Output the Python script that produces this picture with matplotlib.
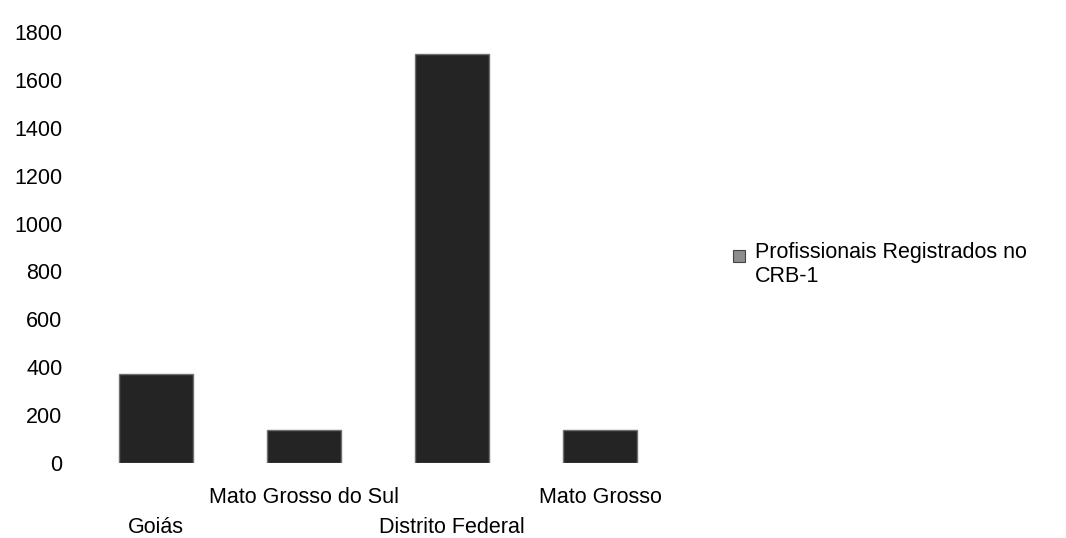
import matplotlib
matplotlib.use("Agg")
import matplotlib.pyplot as plt
from matplotlib.patches import Patch, Rectangle
from matplotlib.legend_handler import HandlerPatch
import matplotlib.transforms as mtransforms

categories = ["Goiás", "Mato Grosso do Sul", "Distrito Federal", "Mato Grosso"]
values = [372, 138, 1708, 138]
series_name = "Profissionais Registrados no\nCRB-1"
yticks = [0, 200, 400, 600, 800, 1000, 1200, 1400, 1600, 1800]

plt.rcParams['font.family'] = ['Liberation Sans', 'DejaVu Sans']
FS = 15.5

fig = plt.figure(figsize=(10.66, 5.38), dpi=100)
ax = fig.add_axes([82/1066, 1-463/538, (674-82)/1066, (463-32)/538])

x = list(range(len(categories)))
ax.bar(x, values, width=0.5, color='#242424', edgecolor='#707070', linewidth=1.0)

ax.set_xlim(-0.5, len(categories)-0.5)
ax.set_ylim(0, 1800)
ax.set_yticks(yticks)
ax.set_yticklabels([str(t) for t in yticks], fontsize=FS)
ax.tick_params(axis='y', length=0, pad=14)
ax.set_xticks([])
for s in ax.spines.values():
    s.set_visible(False)

trans = mtransforms.blended_transform_factory(ax.transData, ax.transAxes)
for i, c in enumerate(categories):
    off = -40/431 if i % 2 == 1 else -70/431
    ax.text(i, off, c, transform=trans, ha='center', va='baseline', fontsize=FS)


def top_square(legend, orig_handle, xdescent, ydescent, width, height, fontsize):
    sq = width
    top_off = 0.12 * fontsize
    return Rectangle((-xdescent, -ydescent + height - sq - top_off), sq, sq)


handle = Patch(facecolor='#8c8c8c', edgecolor='#444444', linewidth=0.8)
fig.legend([handle], [series_name], loc='upper left',
           bbox_to_anchor=(733/1066, 1-242/538), frameon=False, fontsize=FS,
           handlelength=0.56, handleheight=2.2, handletextpad=0.46,
           borderpad=0, borderaxespad=0,
           handler_map={Patch: HandlerPatch(patch_func=top_square)})

fig.savefig("out.png", dpi=100, facecolor='white')
